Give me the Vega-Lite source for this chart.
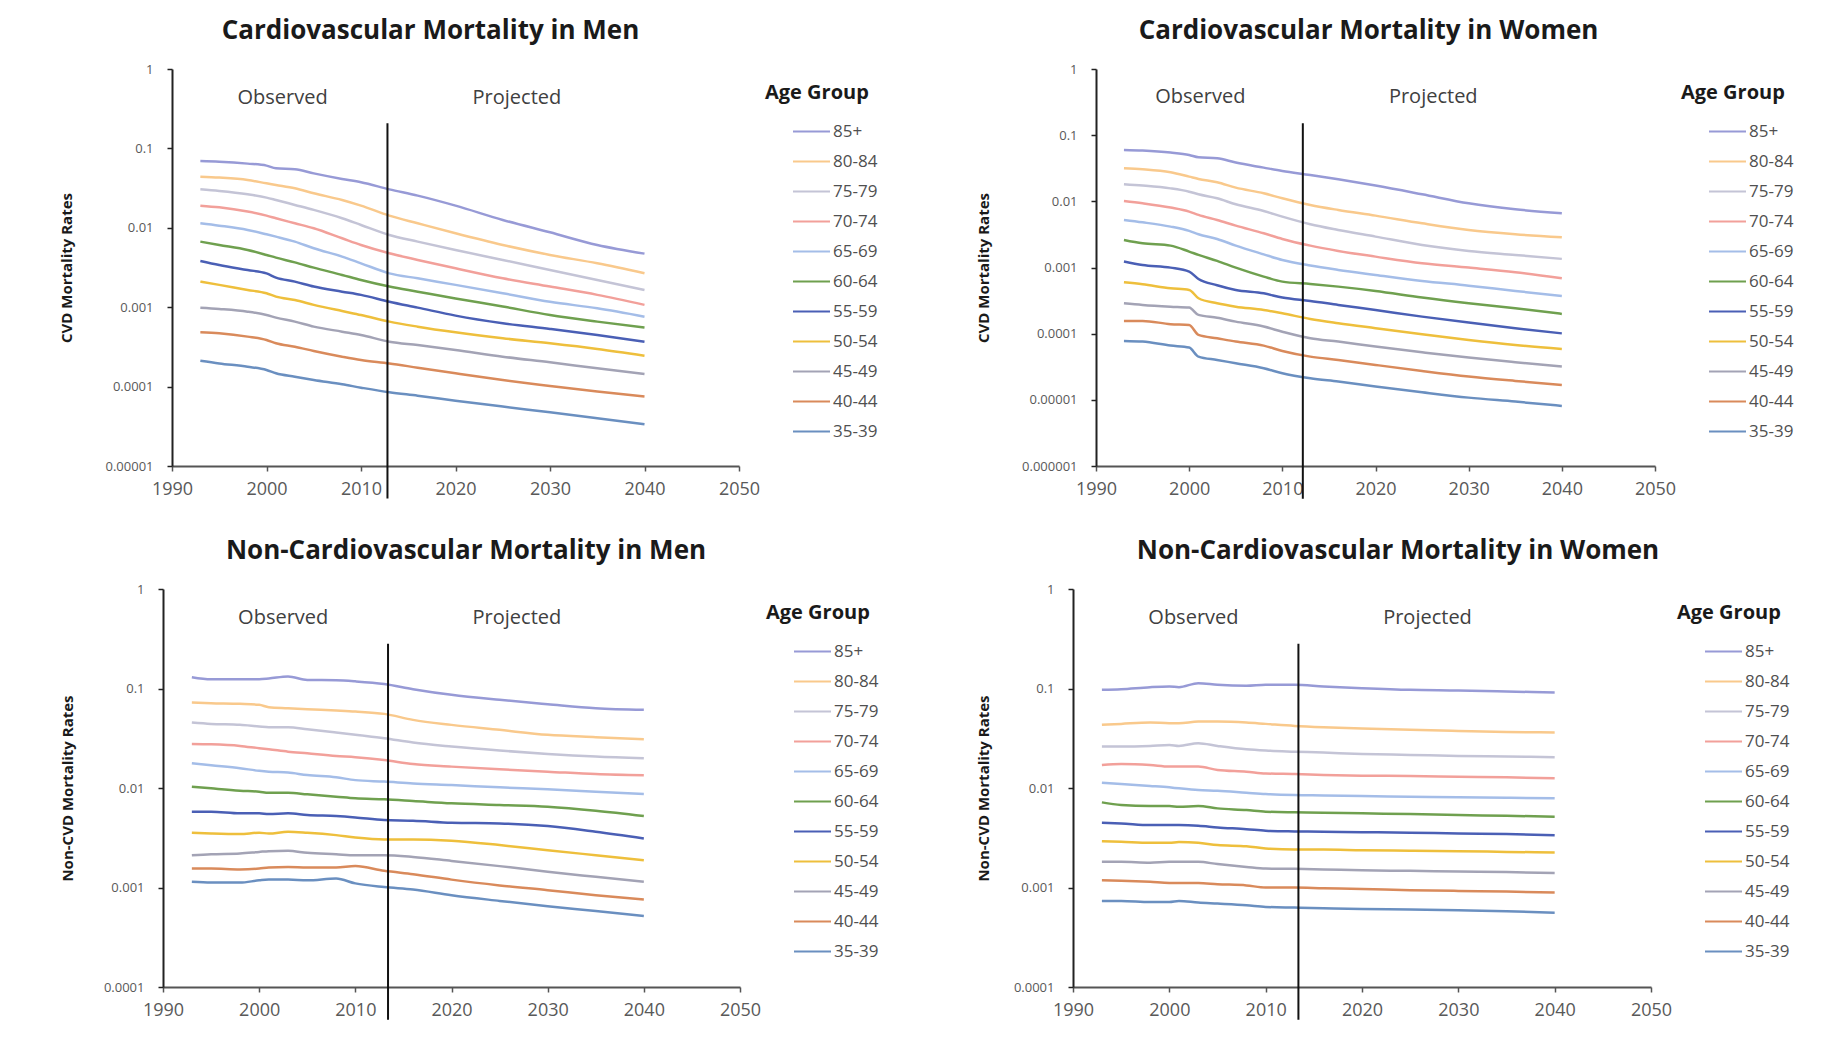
{
  "$schema": "https://vega.github.io/schema/vega-lite/v6.json",
  "background": "white",
  "padding": {"left": 59, "top": 18, "right": 5, "bottom": 5},
  "config": {
    "font": "Open Sans",
    "view": {"stroke": null},
    "title": {"fontSize": 26, "fontWeight": "bold", "color": "#1a1a1a", "anchor": "middle", "offset": 19, "font": "Open Sans"},
    "axis": {"grid": false, "tickSize": 5, "labelColor": "#595959", "titleColor": "#1a1a1a", "labelFlush": false},
    "axisX": {"labelFontSize": 18, "labelPadding": 9, "domainColor": "#555555", "domainWidth": 2, "tickColor": "#555555", "tickWidth": 1.5},
    "axisY": {"labelFontSize": 13, "labelPadding": 14, "domainColor": "#222222", "domainWidth": 2, "tickColor": "#222222", "tickWidth": 1.5, "titleFontSize": 15, "titleFontWeight": "bold", "titlePadding": 30},
    "legend": {"titleFontSize": 20, "titleFontWeight": "bold", "titleColor": "#1a1a1a", "labelFontSize": 17, "labelColor": "#505050", "symbolType": "stroke", "symbolSize": 1369, "symbolStrokeWidth": 2, "offset": 12, "padding": 14, "rowPadding": 2, "titlePadding": 9, "labelOffset": 2, "symbolOffset": 27}
  },
  "datasets": {
    "rates": [
      {"p":"cm","year":1993,"85+":0.0695,"80-84":0.0441,"75-79":0.0305,"70-74":0.019,"65-69":0.0114,"60-64":0.0067,"55-59":0.00382,"50-54":0.0021,"45-49":0.000987,"40-44":0.000483,"35-39":0.000212},
      {"p":"cm","year":1995,"85+":0.0681,"80-84":0.0429,"75-79":0.0291,"70-74":0.0181,"65-69":0.01064,"60-64":0.00608,"55-59":0.0034,"50-54":0.00191,"45-49":0.000951,"40-44":0.000469,"35-39":0.000196},
      {"p":"cm","year":1998,"85+":0.0643,"80-84":0.04,"75-79":0.0264,"70-74":0.016,"65-69":0.0094,"60-64":0.00526,"55-59":0.00294,"50-54":0.00165,"45-49":0.000879,"40-44":0.000426,"35-39":0.000178},
      {"p":"cm","year":2000,"85+":0.0607,"80-84":0.0363,"75-79":0.024,"70-74":0.01422,"65-69":0.00828,"60-64":0.00455,"55-59":0.00267,"50-54":0.0015,"45-49":0.000798,"40-44":0.000386,"35-39":0.000162},
      {"p":"cm","year":2001,"85+":0.0561,"80-84":0.0346,"75-79":0.0224,"70-74":0.01318,"65-69":0.00774,"60-64":0.00421,"55-59":0.00236,"50-54":0.00136,"45-49":0.000739,"40-44":0.000351,"35-39":0.000147},
      {"p":"cm","year":2003,"85+":0.0546,"80-84":0.0314,"75-79":0.0194,"70-74":0.0114,"65-69":0.0067,"60-64":0.00367,"55-59":0.0021,"50-54":0.00123,"45-49":0.000658,"40-44":0.000318,"35-39":0.000133},
      {"p":"cm","year":2005,"85+":0.0485,"80-84":0.0272,"75-79":0.0168,"70-74":0.00986,"65-69":0.00552,"60-64":0.00315,"55-59":0.00182,"50-54":0.00107,"45-49":0.000569,"40-44":0.000281,"35-39":0.000121},
      {"p":"cm","year":2008,"85+":0.0412,"80-84":0.0224,"75-79":0.01318,"70-74":0.00738,"65-69":0.00434,"60-64":0.00255,"55-59":0.00157,"50-54":0.000895,"45-49":0.000492,"40-44":0.000238,"35-39":0.000107},
      {"p":"cm","year":2010,"85+":0.0374,"80-84":0.019,"75-79":0.01086,"70-74":0.00608,"65-69":0.00357,"60-64":0.0022,"55-59":0.00143,"50-54":0.000798,"45-49":0.000447,"40-44":0.000216,"35-39":0.000097},
      {"p":"cm","year":2013,"85+":0.0305,"80-84":0.01422,"75-79":0.00813,"70-74":0.00478,"65-69":0.00267,"60-64":0.00182,"55-59":0.00117,"50-54":0.000658,"45-49":0.000368,"40-44":0.000196,"35-39":0.0000848},
      {"p":"cm","year":2016,"85+":0.0254,"80-84":0.0114,"75-79":0.0067,"70-74":0.00394,"65-69":0.00231,"60-64":0.00157,"55-59":0.000987,"50-54":0.000569,"45-49":0.000334,"40-44":0.000173,"35-39":0.0000769},
      {"p":"cm","year":2020,"85+":0.019,"80-84":0.00853,"75-79":0.00526,"70-74":0.00309,"65-69":0.00191,"60-64":0.00129,"55-59":0.000783,"50-54":0.000483,"45-49":0.000289,"40-44":0.000147,"35-39":0.0000665},
      {"p":"cm","year":2025,"85+":0.01256,"80-84":0.00608,"75-79":0.00394,"70-74":0.00231,"65-69":0.0015,"60-64":0.00102,"55-59":0.000627,"50-54":0.000406,"45-49":0.000238,"40-44":0.000121,"35-39":0.000056},
      {"p":"cm","year":2030,"85+":0.00877,"80-84":0.00455,"75-79":0.00294,"70-74":0.00182,"65-69":0.00117,"60-64":0.000798,"55-59":0.000532,"50-54":0.000351,"45-49":0.000202,"40-44":0.000102,"35-39":0.0000474},
      {"p":"cm","year":2035,"85+":0.00608,"80-84":0.00357,"75-79":0.0022,"70-74":0.00143,"65-69":0.000968,"60-64":0.000658,"55-59":0.000447,"50-54":0.000298,"45-49":0.00017,"40-44":0.0000865,"35-39":0.0000399},
      {"p":"cm","year":2040,"85+":0.00473,"80-84":0.00267,"75-79":0.00165,"70-74":0.00107,"65-69":0.00076,"60-64":0.000553,"55-59":0.000368,"50-54":0.000245,"45-49":0.000144,"40-44":0.0000748,"35-39":0.0000335},

      {"p":"cw","year":1993,"85+":0.0597,"80-84":0.0316,"75-79":0.0181,"70-74":0.01013,"65-69":0.00523,"60-64":0.00261,"55-59":0.00123,"50-54":0.000598,"45-49":0.000288,"40-44":0.000156,"35-39":0.0000777},
      {"p":"cw","year":1995,"85+":0.0584,"80-84":0.0305,"75-79":0.0173,"70-74":0.00934,"65-69":0.00482,"60-64":0.00232,"55-59":0.00109,"50-54":0.000558,"45-49":0.000272,"40-44":0.000156,"35-39":0.0000759},
      {"p":"cw","year":1998,"85+":0.0545,"80-84":0.0275,"75-79":0.0157,"70-74":0.00804,"65-69":0.00415,"60-64":0.00214,"55-59":0.000996,"50-54":0.000485,"45-49":0.000256,"40-44":0.000139,"35-39":0.000066},
      {"p":"cw","year":2000,"85+":0.0502,"80-84":0.0236,"75-79":0.014,"70-74":0.00699,"65-69":0.00357,"60-64":0.00174,"55-59":0.000867,"50-54":0.000458,"45-49":0.000248,"40-44":0.000135,"35-39":0.0000616},
      {"p":"cw","year":2001,"85+":0.0463,"80-84":0.0218,"75-79":0.01278,"70-74":0.00623,"65-69":0.00318,"60-64":0.00155,"55-59":0.000671,"50-54":0.000343,"45-49":0.000192,"40-44":0.0000957,"35-39":0.000045},
      {"p":"cw","year":2003,"85+":0.0447,"80-84":0.0194,"75-79":0.01112,"70-74":0.00523,"65-69":0.0027,"60-64":0.00126,"55-59":0.00054,"50-54":0.000288,"45-49":0.000174,"40-44":0.0000852,"35-39":0.0000401},
      {"p":"cw","year":2005,"85+":0.0385,"80-84":0.0161,"75-79":0.00902,"70-74":0.0043,"65-69":0.00214,"60-64":0.000996,"55-59":0.000458,"50-54":0.000256,"45-49":0.000152,"40-44":0.0000759,"35-39":0.0000357},
      {"p":"cw","year":2008,"85+":0.0323,"80-84":0.01323,"75-79":0.00715,"70-74":0.00329,"65-69":0.00158,"60-64":0.000729,"55-59":0.000408,"50-54":0.000228,"45-49":0.000128,"40-44":0.000066,"35-39":0.00003},
      {"p":"cw","year":2010,"85+":0.0288,"80-84":0.01112,"75-79":0.00587,"70-74":0.0027,"65-69":0.0013,"60-64":0.000612,"55-59":0.000351,"50-54":0.000203,"45-49":0.000107,"40-44":0.0000548,"35-39":0.0000252},
      {"p":"cw","year":2013,"85+":0.025,"80-84":0.00882,"75-79":0.0045,"70-74":0.00214,"65-69":0.00107,"60-64":0.000564,"55-59":0.000312,"50-54":0.000167,"45-49":0.0000852,"40-44":0.000045,"35-39":0.0000212},
      {"p":"cw","year":2016,"85+":0.0215,"80-84":0.00741,"75-79":0.00369,"70-74":0.00178,"65-69":0.000919,"60-64":0.000514,"55-59":0.000272,"50-54":0.000144,"45-49":0.0000759,"40-44":0.0000401,"35-39":0.0000189},
      {"p":"cw","year":2020,"85+":0.0173,"80-84":0.00608,"75-79":0.00293,"70-74":0.00146,"65-69":0.000772,"60-64":0.000442,"55-59":0.000228,"50-54":0.000121,"45-49":0.0000638,"40-44":0.0000337,"35-39":0.0000159},
      {"p":"cw","year":2025,"85+":0.01278,"80-84":0.00466,"75-79":0.00219,"70-74":0.00116,"65-69":0.000626,"60-64":0.000351,"55-59":0.000181,"50-54":0.0000979,"45-49":0.0000524,"40-44":0.0000273,"35-39":0.000013},
      {"p":"cw","year":2030,"85+":0.00934,"80-84":0.00369,"75-79":0.00178,"70-74":0.000996,"65-69":0.000532,"60-64":0.000288,"55-59":0.000147,"50-54":0.0000804,"45-49":0.0000435,"40-44":0.0000225,"35-39":0.0000108},
      {"p":"cw","year":2035,"85+":0.00758,"80-84":0.00318,"75-79":0.00155,"70-74":0.000847,"65-69":0.000442,"60-64":0.000242,"55-59":0.000121,"50-54":0.0000676,"45-49":0.000037,"40-44":0.0000193,"35-39":0.0000094},
      {"p":"cw","year":2040,"85+":0.0066,"80-84":0.00286,"75-79":0.00135,"70-74":0.000687,"65-69":0.000372,"60-64":0.000199,"55-59":0.000101,"50-54":0.0000588,"45-49":0.0000318,"40-44":0.0000168,"35-39":0.0000081},

      {"p":"nm","year":1993,"85+":0.13,"80-84":0.0723,"75-79":0.0455,"70-74":0.0277,"65-69":0.0177,"60-64":0.01031,"55-59":0.00578,"50-54":0.00355,"45-49":0.00211,"40-44":0.00155,"35-39":0.00114},
      {"p":"nm","year":1995,"85+":0.124,"80-84":0.0712,"75-79":0.0441,"70-74":0.0275,"65-69":0.0169,"60-64":0.00992,"55-59":0.00578,"50-54":0.00349,"45-49":0.00216,"40-44":0.00155,"35-39":0.00112},
      {"p":"nm","year":1998,"85+":0.124,"80-84":0.0701,"75-79":0.0431,"70-74":0.0265,"65-69":0.0158,"60-64":0.0094,"55-59":0.00556,"50-54":0.00344,"45-49":0.0022,"40-44":0.00152,"35-39":0.00112},
      {"p":"nm","year":2000,"85+":0.124,"80-84":0.0685,"75-79":0.0415,"70-74":0.0251,"65-69":0.0149,"60-64":0.00918,"55-59":0.00556,"50-54":0.00355,"45-49":0.00228,"40-44":0.00155,"35-39":0.00118},
      {"p":"nm","year":2001,"85+":0.126,"80-84":0.0649,"75-79":0.0408,"70-74":0.0245,"65-69":0.0146,"60-64":0.00897,"55-59":0.00547,"50-54":0.00349,"45-49":0.00232,"40-44":0.00159,"35-39":0.0012},
      {"p":"nm","year":2003,"85+":0.132,"80-84":0.0634,"75-79":0.0408,"70-74":0.0232,"65-69":0.0143,"60-64":0.00897,"55-59":0.00556,"50-54":0.00363,"45-49":0.00234,"40-44":0.00161,"35-39":0.0012},
      {"p":"nm","year":2005,"85+":0.122,"80-84":0.062,"75-79":0.039,"70-74":0.0223,"65-69":0.0135,"60-64":0.00863,"55-59":0.00535,"50-54":0.00355,"45-49":0.00223,"40-44":0.00159,"35-39":0.00118},
      {"p":"nm","year":2008,"85+":0.121,"80-84":0.0601,"75-79":0.0361,"70-74":0.021,"65-69":0.0128,"60-64":0.00818,"55-59":0.00522,"50-54":0.00336,"45-49":0.00216,"40-44":0.00159,"35-39":0.00123},
      {"p":"nm","year":2010,"85+":0.118,"80-84":0.0587,"75-79":0.0342,"70-74":0.0204,"65-69":0.012,"60-64":0.00787,"55-59":0.00506,"50-54":0.00318,"45-49":0.00211,"40-44":0.00164,"35-39":0.0011},
      {"p":"nm","year":2013,"85+":0.111,"80-84":0.0556,"75-79":0.0316,"70-74":0.0191,"65-69":0.0116,"60-64":0.00769,"55-59":0.00476,"50-54":0.00304,"45-49":0.00211,"40-44":0.00147,"35-39":0.00101},
      {"p":"nm","year":2016,"85+":0.0985,"80-84":0.0484,"75-79":0.0286,"70-74":0.0174,"65-69":0.0111,"60-64":0.0074,"55-59":0.00469,"50-54":0.00304,"45-49":0.00203,"40-44":0.00136,"35-39":0.000954},
      {"p":"nm","year":2020,"85+":0.0864,"80-84":0.0431,"75-79":0.0261,"70-74":0.0164,"65-69":0.0107,"60-64":0.00701,"55-59":0.00448,"50-54":0.00295,"45-49":0.00185,"40-44":0.0012,"35-39":0.000836},
      {"p":"nm","year":2025,"85+":0.0769,"80-84":0.0384,"75-79":0.0238,"70-74":0.0154,"65-69":0.01015,"60-64":0.00674,"55-59":0.00441,"50-54":0.00267,"45-49":0.00164,"40-44":0.00105,"35-39":0.000733},
      {"p":"nm","year":2030,"85+":0.0696,"80-84":0.0342,"75-79":0.022,"70-74":0.0146,"65-69":0.00969,"60-64":0.00648,"55-59":0.00414,"50-54":0.00237,"45-49":0.00144,"40-44":0.000939,"35-39":0.000648},
      {"p":"nm","year":2035,"85+":0.0634,"80-84":0.0324,"75-79":0.0207,"70-74":0.0138,"65-69":0.00918,"60-64":0.00591,"55-59":0.00363,"50-54":0.00211,"45-49":0.00128,"40-44":0.000836,"35-39":0.000581},
      {"p":"nm","year":2040,"85+":0.061,"80-84":0.0309,"75-79":0.0199,"70-74":0.0134,"65-69":0.0087,"60-64":0.00522,"55-59":0.00311,"50-54":0.00188,"45-49":0.00114,"40-44":0.000756,"35-39":0.000518},

      {"p":"nw","year":1993,"85+":0.097,"80-84":0.0431,"75-79":0.0261,"70-74":0.017,"65-69":0.0113,"60-64":0.00717,"55-59":0.00448,"50-54":0.00292,"45-49":0.00181,"40-44":0.00118,"35-39":0.000733},
      {"p":"nw","year":1995,"85+":0.0985,"80-84":0.0441,"75-79":0.0261,"70-74":0.0174,"65-69":0.011,"60-64":0.00674,"55-59":0.00441,"50-54":0.00288,"45-49":0.00181,"40-44":0.00117,"35-39":0.000733},
      {"p":"nw","year":1998,"85+":0.1032,"80-84":0.0455,"75-79":0.0265,"70-74":0.017,"65-69":0.0105,"60-64":0.00658,"55-59":0.00424,"50-54":0.00281,"45-49":0.00177,"40-44":0.00114,"35-39":0.000716},
      {"p":"nw","year":2000,"85+":0.1048,"80-84":0.0448,"75-79":0.0271,"70-74":0.0164,"65-69":0.01015,"60-64":0.00658,"55-59":0.00424,"50-54":0.00281,"45-49":0.00181,"40-44":0.00111,"35-39":0.000716},
      {"p":"nw","year":2001,"85+":0.1032,"80-84":0.0448,"75-79":0.0265,"70-74":0.0164,"65-69":0.00992,"60-64":0.00648,"55-59":0.00424,"50-54":0.00286,"45-49":0.00181,"40-44":0.00111,"35-39":0.000733},
      {"p":"nw","year":2003,"85+":0.1132,"80-84":0.0465,"75-79":0.0282,"70-74":0.0164,"65-69":0.00954,"60-64":0.00658,"55-59":0.00418,"50-54":0.00281,"45-49":0.00181,"40-44":0.00111,"35-39":0.000705},
      {"p":"nw","year":2005,"85+":0.1089,"80-84":0.0465,"75-79":0.0265,"70-74":0.0152,"65-69":0.0094,"60-64":0.00624,"55-59":0.00402,"50-54":0.00267,"45-49":0.00172,"40-44":0.00108,"35-39":0.000689},
      {"p":"nw","year":2008,"85+":0.1064,"80-84":0.0455,"75-79":0.0245,"70-74":0.0146,"65-69":0.00897,"60-64":0.006,"55-59":0.00386,"50-54":0.0026,"45-49":0.00161,"40-44":0.00105,"35-39":0.000663},
      {"p":"nw","year":2010,"85+":0.1089,"80-84":0.0441,"75-79":0.0238,"70-74":0.014,"65-69":0.0087,"60-64":0.00578,"55-59":0.00372,"50-54":0.00247,"45-49":0.00155,"40-44":0.000999,"35-39":0.000638},
      {"p":"nw","year":2013,"85+":0.1089,"80-84":0.0421,"75-79":0.0232,"70-74":0.0138,"65-69":0.0085,"60-64":0.00569,"55-59":0.00366,"50-54":0.00241,"45-49":0.00154,"40-44":0.000999,"35-39":0.000628},
      {"p":"nw","year":2016,"85+":0.1048,"80-84":0.0408,"75-79":0.0227,"70-74":0.0135,"65-69":0.00843,"60-64":0.00564,"55-59":0.00363,"50-54":0.00241,"45-49":0.00152,"40-44":0.000984,"35-39":0.000619},
      {"p":"nw","year":2020,"85+":0.1008,"80-84":0.0396,"75-79":0.022,"70-74":0.0133,"65-69":0.0083,"60-64":0.00556,"55-59":0.0036,"50-54":0.00237,"45-49":0.00149,"40-44":0.000968,"35-39":0.000609},
      {"p":"nw","year":2025,"85+":0.097,"80-84":0.0384,"75-79":0.0215,"70-74":0.0132,"65-69":0.00818,"60-64":0.00547,"55-59":0.00355,"50-54":0.00234,"45-49":0.00147,"40-44":0.000939,"35-39":0.0006},
      {"p":"nw","year":2030,"85+":0.0955,"80-84":0.0375,"75-79":0.021,"70-74":0.013,"65-69":0.00805,"60-64":0.00535,"55-59":0.00349,"50-54":0.00232,"45-49":0.00145,"40-44":0.000924,"35-39":0.00059},
      {"p":"nw","year":2035,"85+":0.0933,"80-84":0.0366,"75-79":0.0207,"70-74":0.0128,"65-69":0.00799,"60-64":0.00526,"55-59":0.00344,"50-54":0.00228,"45-49":0.00143,"40-44":0.00091,"35-39":0.000577},
      {"p":"nw","year":2040,"85+":0.0912,"80-84":0.0361,"75-79":0.0204,"70-74":0.0125,"65-69":0.00787,"60-64":0.00514,"55-59":0.00336,"50-54":0.00225,"45-49":0.0014,"40-44":0.00089,"35-39":0.000559}
    ],
    "dividers": [
      {"p":"cm","year":2012.8,"top":0.207,"bottom":0.0000039},
      {"p":"cw","year":2012.2,"top":0.151,"bottom":0.00000032},
      {"p":"nm","year":2013.4,"top":0.282,"bottom":0.000047},
      {"p":"nw","year":2013.4,"top":0.282,"bottom":0.000047}
    ],
    "notes": [
      {"p":"cm","year":2001.7,"rate":0.43,"label":"Observed"},
      {"p":"cm","year":2026.5,"rate":0.43,"label":"Projected"},
      {"p":"cw","year":2001.2,"rate":0.373,"label":"Observed"},
      {"p":"cw","year":2026.2,"rate":0.373,"label":"Projected"},
      {"p":"nm","year":2002.5,"rate":0.508,"label":"Observed"},
      {"p":"nm","year":2026.8,"rate":0.508,"label":"Projected"},
      {"p":"nw","year":2002.5,"rate":0.508,"label":"Observed"},
      {"p":"nw","year":2026.8,"rate":0.508,"label":"Projected"}
    ]
  },
  "columns": 2,
  "align": "none",
  "bounds": "full",
  "spacing": {"row": 38, "column": 83},
  "resolve": {"scale": {"color": "independent", "x": "independent", "y": "independent"}, "legend": {"color": "independent"}, "axis": {"x": "independent", "y": "independent"}},
  "concat": [
    {
      "width": 567, "height": 397,
      "title": {"text": "Cardiovascular Mortality in Men", "dx": -25},
      "layer": [
        {
          "data": {"name": "rates"},
          "transform": [{"filter": "datum.p === 'cm'"}, {"fold": ["85+","80-84","75-79","70-74","65-69","60-64","55-59","50-54","45-49","40-44","35-39"], "as": ["age","rate"]}],
          "mark": {"type": "line", "strokeWidth": 2.5, "interpolate": "monotone"},
          "encoding": {
            "x": {"field": "year", "type": "quantitative", "scale": {"domain": [1990, 2050], "nice": false}, "axis": {"title": null, "values": [1990,2000,2010,2020,2030,2040,2050], "format": "d"}},
            "y": {"field": "rate", "type": "quantitative", "scale": {"type": "log", "domain": [0.00001, 1], "nice": false}, "axis": {"title": "CVD Mortality Rates", "values": [1,0.1,0.01,0.001,0.0001,0.00001], "format": "~f"}},
            "color": {"field": "age", "type": "nominal", "scale": {"domain": ["85+","80-84","75-79","70-74","65-69","60-64","55-59","50-54","45-49","40-44","35-39"], "range": ["#979ad6","#f9c98c","#c4c4d6","#f2a09a","#a4bde8","#6fa04f","#4a5fb5","#eebf3c","#a3a3b5","#d98a5b","#6a8fc0"]}, "legend": {"title": "Age Group"}}
          }
        },
        {
          "data": {"name": "dividers"},
          "transform": [{"filter": "datum.p === 'cm'"}],
          "mark": {"type": "rule", "color": "#111111", "strokeWidth": 2},
          "encoding": {
            "x": {"field": "year", "type": "quantitative", "scale": {"domain": [1990, 2050], "nice": false}},
            "y": {"field": "top", "type": "quantitative", "scale": {"type": "log", "domain": [0.00001, 1], "nice": false}},
            "y2": {"field": "bottom"}
          }
        },
        {
          "data": {"name": "notes"},
          "transform": [{"filter": "datum.p === 'cm'"}],
          "mark": {"type": "text", "fontSize": 20, "color": "#404040"},
          "encoding": {
            "x": {"field": "year", "type": "quantitative", "scale": {"domain": [1990, 2050], "nice": false}},
            "y": {"field": "rate", "type": "quantitative", "scale": {"type": "log", "domain": [0.00001, 1], "nice": false}},
            "text": {"field": "label"}
          }
        }
      ]
    },
    {
      "width": 559, "height": 397,
      "title": {"text": "Cardiovascular Mortality in Women", "dx": -7},
      "layer": [
        {
          "data": {"name": "rates"},
          "transform": [{"filter": "datum.p === 'cw'"}, {"fold": ["85+","80-84","75-79","70-74","65-69","60-64","55-59","50-54","45-49","40-44","35-39"], "as": ["age","rate"]}],
          "mark": {"type": "line", "strokeWidth": 2.5, "interpolate": "monotone"},
          "encoding": {
            "x": {"field": "year", "type": "quantitative", "scale": {"domain": [1990, 2050], "nice": false}, "axis": {"title": null, "values": [1990,2000,2010,2020,2030,2040,2050], "format": "d"}},
            "y": {"field": "rate", "type": "quantitative", "scale": {"type": "log", "domain": [0.000001, 1], "nice": false}, "axis": {"title": "CVD Mortality Rates", "values": [1,0.1,0.01,0.001,0.0001,0.00001,0.000001], "format": "~f"}},
            "color": {"field": "age", "type": "nominal", "scale": {"domain": ["85+","80-84","75-79","70-74","65-69","60-64","55-59","50-54","45-49","40-44","35-39"], "range": ["#979ad6","#f9c98c","#c4c4d6","#f2a09a","#a4bde8","#6fa04f","#4a5fb5","#eebf3c","#a3a3b5","#d98a5b","#6a8fc0"]}, "legend": {"title": "Age Group"}}
          }
        },
        {
          "data": {"name": "dividers"},
          "transform": [{"filter": "datum.p === 'cw'"}],
          "mark": {"type": "rule", "color": "#111111", "strokeWidth": 2},
          "encoding": {
            "x": {"field": "year", "type": "quantitative", "scale": {"domain": [1990, 2050], "nice": false}},
            "y": {"field": "top", "type": "quantitative", "scale": {"type": "log", "domain": [0.000001, 1], "nice": false}},
            "y2": {"field": "bottom"}
          }
        },
        {
          "data": {"name": "notes"},
          "transform": [{"filter": "datum.p === 'cw'"}],
          "mark": {"type": "text", "fontSize": 20, "color": "#404040"},
          "encoding": {
            "x": {"field": "year", "type": "quantitative", "scale": {"domain": [1990, 2050], "nice": false}},
            "y": {"field": "rate", "type": "quantitative", "scale": {"type": "log", "domain": [0.000001, 1], "nice": false}},
            "text": {"field": "label"}
          }
        }
      ]
    },
    {
      "width": 568, "height": 398,
      "title": {"text": "Non-Cardiovascular Mortality in Men", "dx": 10},
      "layer": [
        {
          "data": {"name": "rates"},
          "transform": [{"filter": "datum.p === 'nm'"}, {"fold": ["85+","80-84","75-79","70-74","65-69","60-64","55-59","50-54","45-49","40-44","35-39"], "as": ["age","rate"]}],
          "mark": {"type": "line", "strokeWidth": 2.5, "interpolate": "monotone"},
          "encoding": {
            "x": {"field": "year", "type": "quantitative", "scale": {"domain": [1990, 2050], "nice": false, "range": [-9, 568]}, "axis": {"title": null, "values": [1990,2000,2010,2020,2030,2040,2050], "format": "d"}},
            "y": {"field": "rate", "type": "quantitative", "scale": {"type": "log", "domain": [0.0001, 1], "nice": false}, "axis": {"title": "Non-CVD Mortality Rates", "offset": 9, "titlePadding": 28, "values": [1,0.1,0.01,0.001,0.0001], "format": "~f"}},
            "color": {"field": "age", "type": "nominal", "scale": {"domain": ["85+","80-84","75-79","70-74","65-69","60-64","55-59","50-54","45-49","40-44","35-39"], "range": ["#979ad6","#f9c98c","#c4c4d6","#f2a09a","#a4bde8","#6fa04f","#4a5fb5","#eebf3c","#a3a3b5","#d98a5b","#6a8fc0"]}, "legend": {"title": "Age Group"}}
          }
        },
        {
          "data": {"name": "dividers"},
          "transform": [{"filter": "datum.p === 'nm'"}],
          "mark": {"type": "rule", "color": "#111111", "strokeWidth": 2},
          "encoding": {
            "x": {"field": "year", "type": "quantitative", "scale": {"domain": [1990, 2050], "nice": false, "range": [-9, 568]}},
            "y": {"field": "top", "type": "quantitative", "scale": {"type": "log", "domain": [0.0001, 1], "nice": false}},
            "y2": {"field": "bottom"}
          }
        },
        {
          "data": {"name": "notes"},
          "transform": [{"filter": "datum.p === 'nm'"}],
          "mark": {"type": "text", "fontSize": 20, "color": "#404040"},
          "encoding": {
            "x": {"field": "year", "type": "quantitative", "scale": {"domain": [1990, 2050], "nice": false, "range": [-9, 568]}},
            "y": {"field": "rate", "type": "quantitative", "scale": {"type": "log", "domain": [0.0001, 1], "nice": false}},
            "text": {"field": "label"}
          }
        }
      ]
    },
    {
      "width": 578, "height": 398,
      "title": {"text": "Non-Cardiovascular Mortality in Women", "dx": 36},
      "layer": [
        {
          "data": {"name": "rates"},
          "transform": [{"filter": "datum.p === 'nw'"}, {"fold": ["85+","80-84","75-79","70-74","65-69","60-64","55-59","50-54","45-49","40-44","35-39"], "as": ["age","rate"]}],
          "mark": {"type": "line", "strokeWidth": 2.5, "interpolate": "monotone"},
          "encoding": {
            "x": {"field": "year", "type": "quantitative", "scale": {"domain": [1990, 2050], "nice": false}, "axis": {"title": null, "values": [1990,2000,2010,2020,2030,2040,2050], "format": "d"}},
            "y": {"field": "rate", "type": "quantitative", "scale": {"type": "log", "domain": [0.0001, 1], "nice": false}, "axis": {"title": "Non-CVD Mortality Rates", "titlePadding": 22, "values": [1,0.1,0.01,0.001,0.0001], "format": "~f"}},
            "color": {"field": "age", "type": "nominal", "scale": {"domain": ["85+","80-84","75-79","70-74","65-69","60-64","55-59","50-54","45-49","40-44","35-39"], "range": ["#979ad6","#f9c98c","#c4c4d6","#f2a09a","#a4bde8","#6fa04f","#4a5fb5","#eebf3c","#a3a3b5","#d98a5b","#6a8fc0"]}, "legend": {"title": "Age Group"}}
          }
        },
        {
          "data": {"name": "dividers"},
          "transform": [{"filter": "datum.p === 'nw'"}],
          "mark": {"type": "rule", "color": "#111111", "strokeWidth": 2},
          "encoding": {
            "x": {"field": "year", "type": "quantitative", "scale": {"domain": [1990, 2050], "nice": false}},
            "y": {"field": "top", "type": "quantitative", "scale": {"type": "log", "domain": [0.0001, 1], "nice": false}},
            "y2": {"field": "bottom"}
          }
        },
        {
          "data": {"name": "notes"},
          "transform": [{"filter": "datum.p === 'nw'"}],
          "mark": {"type": "text", "fontSize": 20, "color": "#404040"},
          "encoding": {
            "x": {"field": "year", "type": "quantitative", "scale": {"domain": [1990, 2050], "nice": false}},
            "y": {"field": "rate", "type": "quantitative", "scale": {"type": "log", "domain": [0.0001, 1], "nice": false}},
            "text": {"field": "label"}
          }
        }
      ]
    }
  ]
}
